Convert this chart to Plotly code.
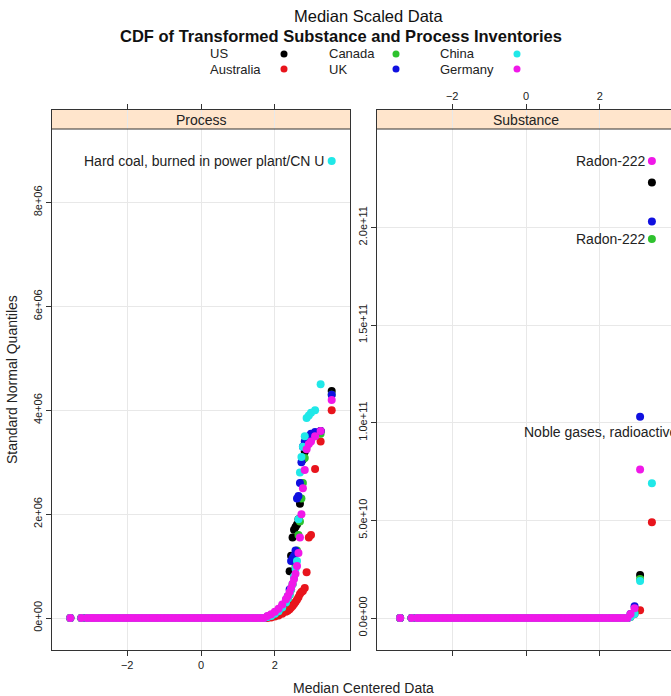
import plotly.graph_objects as go

W, H = 671, 696

COUNTRIES = ["US", "Australia", "Canada", "UK", "China", "Germany"]
COLORS = ["#000000", "#E8141C", "#2EC22E", "#1010E0", "#20E8E8", "#F018E8"]

# ---- Process panel: normal quantiles (x) vs values (y) ----
PROC_FLAT_X = [-3.54, -3.24, -3.09, -2.98, -2.9, -2.8, -2.7, -2.6, -2.5, -2.4,
               -2.3, -2.2, -2.1, -2.0, -1.9, -1.8, -1.7, -1.6, -1.5, -1.4,
               -1.3, -1.2, -1.1, -1.0, -0.9, -0.8, -0.7, -0.6, -0.5, -0.4,
               -0.3, -0.2, -0.1, 0.0, 0.1, 0.2, 0.3, 0.4, 0.5, 0.6,
               0.7, 0.8, 0.9, 1.0, 1.1, 1.2, 1.3, 1.4, 1.5, 1.6, 1.7]
PROC_TAIL_X = [1.8, 1.9, 2.0, 2.1, 2.2, 2.3, 2.35, 2.4, 2.44, 2.48, 2.52, 2.56,
               2.6, 2.64, 2.68, 2.72, 2.76, 2.81, 2.86, 2.92, 2.98, 3.09, 3.24, 3.54]
proc_us = [0.02, 0.04, 0.07, 0.11, 0.16, 0.24, 0.3, 0.9, 1.2, 1.55, 1.7, 1.75,
           1.8, 1.9, 2.2, 2.6, 3.05, 3.2, 3.4, 3.45, 3.5, 3.55, 3.6, 4.37]
proc_australia = [0.0, 0.01, 0.03, 0.05, 0.08, 0.12, 0.14, 0.17, 0.2, 0.23, 0.27, 0.31,
                  0.35, 0.4, 0.46, 0.5, 0.52, 0.58, 0.88, 1.55, 1.6, 2.87, 3.4, 4.0]
proc_canada = [0.02, 0.04, 0.08, 0.13, 0.2, 0.3, 0.37, 0.45, 0.55, 0.65, 0.8, 1.0,
               1.3, 1.6, 1.86, 2.3, 2.6, 3.08, 3.3, 3.4, 3.45, 3.5, 3.55, 4.3]
proc_uk = [0.03, 0.05, 0.09, 0.15, 0.23, 0.34, 0.42, 0.55, 1.1, 1.15, 1.2, 1.3,
           2.3, 2.35, 2.6, 3.0, 3.3, 3.4, 3.45, 3.5, 3.55, 3.58, 3.6, 4.3]
proc_china = [0.02, 0.04, 0.08, 0.13, 0.2, 0.3, 0.37, 0.45, 0.55, 0.65, 0.8, 0.95,
              1.1, 1.9, 2.8, 3.1, 3.3, 3.5, 3.85, 3.9, 3.95, 4.0, 4.5, 8.8]
proc_germany = [0.04, 0.07, 0.12, 0.18, 0.26, 0.36, 0.42, 0.5, 0.58, 0.66, 0.75, 0.85,
                1.0, 1.25, 1.55, 2.0, 2.5, 2.85, 3.25, 3.35, 3.4, 3.5, 3.6, 4.2]
PROC_SCALE = 1e6

# ---- Substance panel ----
SUBS_FLAT_X = [-3.41, -3.1, -2.95, -2.85, -2.75, -2.65, -2.55, -2.45, -2.35, -2.25,
               -2.15, -2.05, -1.95, -1.85, -1.75, -1.65, -1.55, -1.45, -1.35, -1.25,
               -1.15, -1.05, -0.95, -0.85, -0.75, -0.65, -0.55, -0.45, -0.35, -0.25,
               -0.15, -0.05, 0.05, 0.15, 0.25, 0.35, 0.45, 0.55, 0.65, 0.75,
               0.85, 0.95, 1.05, 1.15, 1.25, 1.35, 1.45, 1.55, 1.65, 1.75,
               1.85, 1.95, 2.05, 2.15, 2.25, 2.35, 2.45, 2.55, 2.65, 2.75]
SUBS_TAIL_X = [2.83, 2.94, 3.09, 3.41]
subs_us = [0.1, 0.3, 2.2, 22.3]
subs_australia = [0.05, 0.2, 0.4, 4.9]
subs_canada = [0.1, 0.3, 2.0, 19.4]
subs_uk = [0.2, 0.6, 10.3, 20.3]
subs_china = [0.05, 0.2, 1.9, 6.9]
subs_germany = [0.2, 0.5, 7.6, 23.4]
SUBS_SCALE = 1e10

PROC_Y = [proc_us, proc_australia, proc_canada, proc_uk, proc_china, proc_germany]
SUBS_Y = [subs_us, subs_australia, subs_canada, subs_uk, subs_china, subs_germany]

PROC_TICKS = [0, 2e6, 4e6, 6e6, 8e6]
PROC_TICKTEXT = ["0e+00", "2e+06", "4e+06", "6e+06", "8e+06"]
SUBS_TICKS = [0, 5e10, 1e11, 1.5e11, 2e11]
SUBS_TICKTEXT = ["0.0e+00", "5.0e+10", "1.0e+11", "1.5e+11", "2.0e+11"]
X_TICKS = [-2, 0, 2]

FONT = "Liberation Sans, Arial, sans-serif"
FRAME = "#333333"
STRIP_FILL = "#FFE5CC"
TEXT = "#222222"

# panel geometry in pixels
LEFT_X0, LEFT_X1 = 52, 350
RIGHT_X0, PANEL_W = 377, 298
TOP, STRIP_B, BOTTOM = 110, 129, 650


def px(x):
    return x / W


def py(y):
    return 1 - y / H


fig = go.Figure()

for name, col, py_vals, sy_vals in zip(COUNTRIES, COLORS, PROC_Y, SUBS_Y):
    fig.add_trace(go.Scatter(
        x=PROC_FLAT_X + PROC_TAIL_X,
        y=[0.0] * len(PROC_FLAT_X) + [v * PROC_SCALE for v in py_vals],
        mode="markers", name=name, showlegend=False,
        marker=dict(color=col, size=8, line=dict(width=0)),
        xaxis="x", yaxis="y", hoverinfo="skip"))
    fig.add_trace(go.Scatter(
        x=SUBS_FLAT_X + SUBS_TAIL_X,
        y=[0.0] * len(SUBS_FLAT_X) + [v * SUBS_SCALE for v in sy_vals],
        mode="markers", name=name, showlegend=False,
        marker=dict(color=col, size=8, line=dict(width=0)),
        xaxis="x2", yaxis="y2", hoverinfo="skip"))


def padded(lo, hi, frac=0.07):
    span = hi - lo
    return lo - frac * span, hi + frac * span


# x: shared scale across panels
all_x = PROC_FLAT_X + PROC_TAIL_X + SUBS_FLAT_X + SUBS_TAIL_X
xlo, xhi = padded(min(all_x), max(all_x))
x_right_visible = xlo + (xhi - xlo) * (W - RIGHT_X0) / PANEL_W

strip_ext = (BOTTOM - TOP) / (BOTTOM - STRIP_B)

p_max = max(max(v) for v in PROC_Y) * PROC_SCALE
plo, phi = padded(0.0, p_max)
s_max = max(max(v) for v in SUBS_Y) * SUBS_SCALE
slo, shi = padded(0.0, s_max)

ydom = [py(BOTTOM), py(TOP)]

axis_common = dict(showline=True, linecolor=FRAME, linewidth=1, ticks="outside",
                   ticklen=5, tickcolor=FRAME, tickwidth=1, zeroline=False,
                   showgrid=True, gridcolor="#E8E8E8", gridwidth=1,
                   tickfont=dict(family=FONT, size=11, color=TEXT))

fig.update_layout(
    width=W, height=H,
    margin=dict(l=0, r=0, t=0, b=0),
    paper_bgcolor="white", plot_bgcolor="white",
    font=dict(family=FONT, color=TEXT),
    xaxis=dict(domain=[px(LEFT_X0), px(LEFT_X1)], range=[xlo, xhi],
               tickvals=X_TICKS, side="bottom", mirror="allticks",
               anchor="y", **axis_common),
    yaxis=dict(domain=ydom, range=[plo, plo + (phi - plo) * strip_ext],
               tickvals=PROC_TICKS, ticktext=PROC_TICKTEXT, tickangle=-90,
               mirror=True, anchor="x", **axis_common),
    xaxis2=dict(domain=[px(RIGHT_X0), 1.0], range=[xlo, x_right_visible],
                tickvals=X_TICKS, side="top", mirror="allticks",
                anchor="y2", **axis_common),
    yaxis2=dict(domain=ydom, range=[slo, slo + (shi - slo) * strip_ext],
                tickvals=SUBS_TICKS, ticktext=SUBS_TICKTEXT, tickangle=-90,
                mirror=False, anchor="x2", **axis_common),
)

# strips
shapes = []
for x0, x1 in [(px(LEFT_X0), px(LEFT_X1)), (px(RIGHT_X0), 1.0)]:
    shapes.append(dict(type="rect", xref="paper", yref="paper", x0=x0, x1=x1,
                       y0=py(STRIP_B), y1=py(TOP), fillcolor=STRIP_FILL,
                       line=dict(width=0), layer="between"))
    shapes.append(dict(type="line", xref="paper", yref="paper", x0=x0, x1=x1,
                       y0=py(STRIP_B), y1=py(STRIP_B),
                       line=dict(color=FRAME, width=1), layer="above"))

# legend keys
LEG_TEXT_X = [208, 208, 327, 327, 438, 438]
LEG_DOT_X = [284, 284, 396, 396, 517, 517]
LEG_Y = [54, 69, 54, 69, 54, 69]
annotations = []
for name, col, tx, dx, ly in zip(COUNTRIES, COLORS, LEG_TEXT_X, LEG_DOT_X, LEG_Y):
    shapes.append(dict(type="circle", xref="paper", yref="paper",
                       xsizemode="pixel", ysizemode="pixel",
                       xanchor=px(dx), yanchor=py(ly),
                       x0=-3.5, x1=3.5, y0=-3.5, y1=3.5,
                       fillcolor=col, line=dict(width=0)))
    annotations.append(dict(text=name, xref="paper", yref="paper",
                            x=px(tx), y=py(ly), xanchor="left", yanchor="middle",
                            showarrow=False, font=dict(size=13, color=TEXT)))

fig.update_layout(shapes=shapes)

LABEL_FONT = dict(size=14, color=TEXT)
annotations += [
    dict(text="Median Scaled Data", xref="paper", yref="paper", x=px(368), y=py(16),
         xanchor="center", yanchor="middle", showarrow=False,
         font=dict(size=16.5, color="#111111")),
    dict(text="<b>CDF of Transformed Substance and Process Inventories</b>",
         xref="paper", yref="paper", x=px(341), y=py(36),
         xanchor="center", yanchor="middle", showarrow=False,
         font=dict(size=16.5, color="#111111")),
    dict(text="Process", xref="paper", yref="paper",
         x=px((LEFT_X0 + LEFT_X1) / 2), y=py((TOP + STRIP_B) / 2),
         xanchor="center", yanchor="middle", showarrow=False, font=LABEL_FONT),
    dict(text="Substance", xref="paper", yref="paper",
         x=px(RIGHT_X0 + PANEL_W / 2), y=py((TOP + STRIP_B) / 2),
         xanchor="center", yanchor="middle", showarrow=False, font=LABEL_FONT),
    dict(text="Standard Normal Quantiles", xref="paper", yref="paper",
         x=px(12), y=py((TOP + BOTTOM) / 2), textangle=-90,
         xanchor="center", yanchor="middle", showarrow=False, font=LABEL_FONT),
    dict(text="Median Centered Data", xref="paper", yref="paper",
         x=px((LEFT_X0 + RIGHT_X0 + PANEL_W) / 2), y=py(688),
         xanchor="center", yanchor="middle", showarrow=False, font=LABEL_FONT),
    # point labels
    dict(text="Hard coal, burned in power plant/CN U", xref="x", yref="y",
         x=PROC_TAIL_X[-1], y=proc_china[-1] * PROC_SCALE, xanchor="right",
         yanchor="middle", xshift=-6, showarrow=False, font=LABEL_FONT),
    dict(text="Radon-222", xref="x2", yref="y2",
         x=SUBS_TAIL_X[-1], y=subs_germany[-1] * SUBS_SCALE, xanchor="right",
         yanchor="middle", xshift=-5, showarrow=False, font=LABEL_FONT),
    dict(text="Radon-222", xref="x2", yref="y2",
         x=SUBS_TAIL_X[-1], y=subs_canada[-1] * SUBS_SCALE, xanchor="right",
         yanchor="middle", xshift=-5, showarrow=False, font=LABEL_FONT),
    dict(text="Noble gases, radioactive, unspecified", xref="x2", yref="y2",
         x=SUBS_TAIL_X[-2], y=subs_uk[-2] * SUBS_SCALE, xanchor="center",
         yanchor="middle", yshift=-15, showarrow=False, font=LABEL_FONT),
]
fig.update_layout(annotations=annotations)

fig.write_html("out.html")
